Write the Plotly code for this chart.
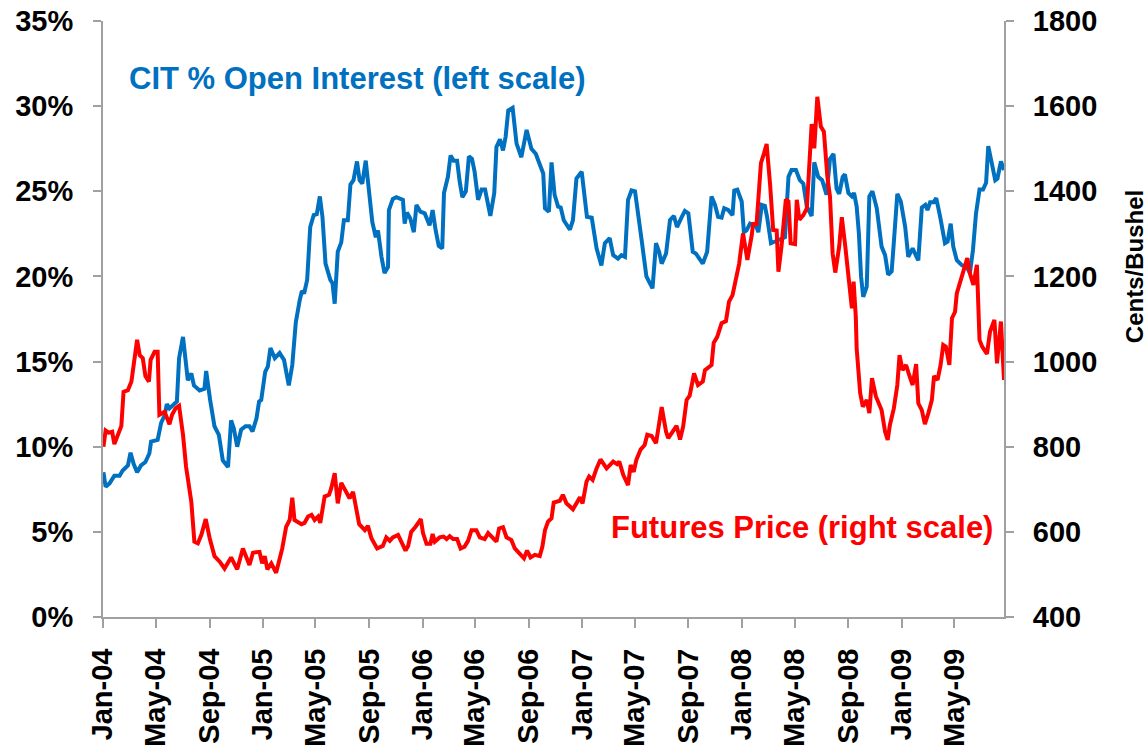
import plotly.graph_objects as go

# CIT % of open interest (left scale, percent)
cit_dates = [
    "2004-01-02", "2004-01-07", "2004-01-16", "2004-01-27", "2004-02-08", "2004-02-15", "2004-02-27",
    "2004-03-04", "2004-03-11", "2004-03-19", "2004-03-28", "2004-04-07", "2004-04-16", "2004-04-20",
    "2004-05-05", "2004-05-13", "2004-05-21", "2004-05-26", "2004-06-01", "2004-06-13", "2004-06-18",
    "2004-06-23", "2004-07-02", "2004-07-13", "2004-07-21", "2004-07-27", "2004-08-09", "2004-08-20",
    "2004-08-24", "2004-09-02", "2004-09-12", "2004-09-22", "2004-10-01", "2004-10-13", "2004-10-20",
    "2004-10-26", "2004-11-03", "2004-11-12", "2004-11-22", "2004-12-01", "2004-12-08", "2004-12-17",
    "2004-12-23", "2004-12-28",
    "2005-01-06", "2005-01-12", "2005-01-18", "2005-01-28", "2005-02-08", "2005-02-18", "2005-03-01",
    "2005-03-09", "2005-03-17", "2005-03-26", "2005-03-31", "2005-04-05", "2005-04-12", "2005-04-19",
    "2005-04-27", "2005-05-04", "2005-05-11", "2005-05-17", "2005-05-24", "2005-06-04", "2005-06-09",
    "2005-06-14", "2005-06-21", "2005-06-29", "2005-07-05", "2005-07-14", "2005-07-20", "2005-07-27",
    "2005-08-04", "2005-08-10", "2005-08-16", "2005-08-24", "2005-09-02", "2005-09-08", "2005-09-16",
    "2005-09-21", "2005-09-29", "2005-10-06", "2005-10-14", "2005-10-16", "2005-10-25", "2005-11-02",
    "2005-11-17", "2005-11-21", "2005-11-26", "2005-12-04", "2005-12-12", "2005-12-18", "2005-12-27",
    "2006-01-06", "2006-01-17", "2006-01-24", "2006-01-31", "2006-02-07", "2006-02-15", "2006-02-19",
    "2006-02-28", "2006-03-06", "2006-03-13", "2006-03-21", "2006-03-27", "2006-04-02", "2006-04-10",
    "2006-04-17", "2006-04-24", "2006-04-30", "2006-05-08", "2006-05-16", "2006-05-24", "2006-06-05",
    "2006-06-14", "2006-06-19", "2006-06-27", "2006-07-04", "2006-07-10", "2006-07-16", "2006-07-26",
    "2006-08-04", "2006-08-15", "2006-08-27", "2006-09-07", "2006-09-17", "2006-09-22", "2006-10-04",
    "2006-10-08", "2006-10-17", "2006-10-23", "2006-10-30", "2006-11-07", "2006-11-13", "2006-11-20",
    "2006-12-04", "2006-12-11", "2006-12-19", "2006-12-31",
    "2007-01-12", "2007-01-23", "2007-02-03", "2007-02-14", "2007-02-22", "2007-03-05", "2007-03-13",
    "2007-03-24", "2007-04-01", "2007-04-09", "2007-04-16", "2007-04-24", "2007-05-02", "2007-05-17",
    "2007-05-28", "2007-06-11", "2007-06-19", "2007-06-26", "2007-07-02", "2007-07-12", "2007-07-21",
    "2007-07-30", "2007-08-06", "2007-08-17", "2007-08-24", "2007-09-01", "2007-09-11", "2007-09-18",
    "2007-10-04", "2007-10-14", "2007-10-24", "2007-11-01", "2007-11-08", "2007-11-16", "2007-11-22",
    "2007-12-01", "2007-12-11", "2007-12-15", "2007-12-22",
    "2008-01-01", "2008-01-06", "2008-01-12", "2008-01-20", "2008-01-27", "2008-02-04", "2008-02-08",
    "2008-02-16", "2008-02-23", "2008-02-28", "2008-03-08", "2008-03-17", "2008-03-27", "2008-04-09",
    "2008-04-17", "2008-04-24", "2008-05-04", "2008-05-13", "2008-05-21", "2008-05-29", "2008-06-09",
    "2008-06-15", "2008-06-24", "2008-07-03", "2008-07-13", "2008-07-21", "2008-07-29", "2008-08-05",
    "2008-08-11", "2008-08-19", "2008-08-24", "2008-09-01", "2008-09-09", "2008-09-14", "2008-09-20",
    "2008-09-25", "2008-09-30", "2008-10-05", "2008-10-13", "2008-10-19", "2008-10-26", "2008-11-05",
    "2008-11-16", "2008-11-24", "2008-12-01", "2008-12-09", "2008-12-13", "2008-12-22", "2008-12-30",
    "2009-01-09", "2009-01-16", "2009-01-26", "2009-02-04", "2009-02-08", "2009-02-16", "2009-02-24",
    "2009-03-01", "2009-03-07", "2009-03-15", "2009-03-21", "2009-03-30", "2009-04-10", "2009-04-16",
    "2009-04-23", "2009-04-29", "2009-05-07", "2009-05-19", "2009-05-30", "2009-06-06", "2009-06-13",
    "2009-06-20", "2009-06-28", "2009-07-06", "2009-07-13", "2009-07-18", "2009-07-26", "2009-08-03",
    "2009-08-08", "2009-08-16", "2009-08-23",
]
cit_pct = [
    8.5, 7.65, 7.85, 8.3, 8.3, 8.6, 8.9,
    9.65, 9.0, 8.5, 8.9, 9.1, 9.6, 10.3,
    10.4, 11.4, 11.85, 12.5, 12.25, 12.55, 12.65,
    15.2, 16.45, 13.9, 14.3, 13.6, 13.3, 13.4,
    14.45, 12.75, 11.2, 10.7, 9.2, 8.8, 11.55,
    11.1, 10.0, 11.0, 11.2, 11.2, 10.9, 11.65,
    12.65, 12.75,
    14.4, 14.7, 15.8, 15.2, 15.5, 15.1, 13.6,
    14.8, 17.3, 18.6, 19.15, 19.0, 19.8, 22.9,
    23.6, 23.65, 24.7, 23.5, 20.75, 19.8, 19.6,
    18.4, 21.45, 22.0, 23.3, 23.3, 25.4, 25.65,
    26.75, 25.65, 25.45, 26.8, 24.7, 23.2, 22.3,
    22.7, 21.15, 20.2, 20.55, 23.9, 24.55, 24.65,
    24.5, 23.1, 23.75, 23.4, 22.6, 24.2, 23.8,
    23.7, 23.0, 23.9, 22.7, 21.8, 21.65, 24.9,
    25.85, 27.1, 26.8, 26.8, 25.55, 24.65, 25.0,
    27.05, 26.9, 26.15, 24.5, 25.1, 25.1, 23.55,
    24.9, 27.6, 28.05, 27.4, 28.2, 29.75, 29.9,
    27.8, 27.0, 28.6, 27.5, 27.2, 26.85, 26.05,
    24.0, 23.8, 26.7, 24.8, 24.1, 24.05, 23.3,
    22.75, 23.3, 25.75, 26.15,
    23.5, 23.45, 21.65, 20.65, 21.95, 22.25, 21.25,
    21.05, 21.25, 21.15, 24.5, 25.05, 25.0, 22.15,
    20.0, 19.3, 21.95, 21.45, 20.75, 21.35, 23.3,
    23.55, 22.9, 23.5, 23.85, 23.7, 21.45, 21.35,
    20.75, 21.45, 24.7, 24.2, 23.5, 23.45, 24.0,
    23.9, 23.6, 25.05, 25.1,
    24.4, 22.6, 22.7, 23.1, 23.0, 22.9, 22.6,
    24.2, 24.15, 23.5, 21.95, 22.05, 22.15, 22.3,
    25.85, 26.25, 26.25, 25.65, 25.45, 24.1, 23.55,
    26.7, 25.85, 25.65, 24.8, 26.9, 27.2, 25.15,
    24.85, 25.85, 26.0, 24.9, 24.7, 24.9, 24.1,
    22.55, 20.0, 18.8, 19.4, 24.7, 25.0, 24.0,
    21.75, 21.25, 20.1, 20.3, 21.65, 24.85, 24.4,
    22.9, 21.15, 21.65, 21.15, 20.95, 24.05, 24.2,
    23.9, 24.35, 24.35, 24.6, 23.5, 21.95, 22.05,
    23.1, 21.75, 20.95, 20.65, 20.55, 20.2, 21.55,
    23.7, 25.1, 25.1, 25.5, 27.65, 26.65, 25.65,
    25.75, 26.75, 26.25,
]

# Futures price (right scale, cents/bushel)
price_dates = [
    "2004-01-02", "2004-01-07", "2004-01-14", "2004-01-22", "2004-01-27", "2004-02-04", "2004-02-12",
    "2004-02-17", "2004-02-27", "2004-03-06", "2004-03-13", "2004-03-19", "2004-03-25", "2004-04-01",
    "2004-04-07", "2004-04-15", "2004-04-19", "2004-04-28", "2004-05-05", "2004-05-09", "2004-05-21",
    "2004-06-01", "2004-06-07", "2004-06-15", "2004-06-23", "2004-07-02", "2004-07-09", "2004-07-21",
    "2004-07-28", "2004-08-05", "2004-08-13", "2004-08-23", "2004-09-01", "2004-09-12", "2004-09-24",
    "2004-10-05", "2004-10-20", "2004-11-03", "2004-11-16", "2004-12-01", "2004-12-09", "2004-12-24",
    "2004-12-30",
    "2005-01-05", "2005-01-11", "2005-01-20", "2005-01-31", "2005-02-14", "2005-02-23", "2005-03-03",
    "2005-03-09", "2005-03-14", "2005-03-30", "2005-04-06", "2005-04-14", "2005-04-22", "2005-04-29",
    "2005-05-07", "2005-05-12", "2005-05-22", "2005-06-01", "2005-06-06", "2005-06-14", "2005-06-21",
    "2005-06-29", "2005-07-09", "2005-07-18", "2005-07-26", "2005-08-09", "2005-08-22", "2005-08-29",
    "2005-09-06", "2005-09-19", "2005-10-02", "2005-10-10", "2005-10-18", "2005-10-25", "2005-11-06",
    "2005-11-14", "2005-11-23", "2005-11-29", "2005-12-06", "2005-12-16", "2005-12-28",
    "2006-01-02", "2006-01-10", "2006-01-19", "2006-01-24", "2006-01-29", "2006-02-09", "2006-02-18",
    "2006-02-25", "2006-03-04", "2006-03-12", "2006-03-21", "2006-03-29", "2006-04-07", "2006-04-15",
    "2006-04-23", "2006-05-04", "2006-05-12", "2006-05-23", "2006-05-31", "2006-06-11", "2006-06-19",
    "2006-06-25", "2006-07-04", "2006-07-12", "2006-07-23", "2006-07-31", "2006-08-11", "2006-08-21",
    "2006-08-28", "2006-09-05", "2006-09-15", "2006-09-26", "2006-10-02", "2006-10-08", "2006-10-15",
    "2006-10-23", "2006-10-28", "2006-11-11", "2006-11-18", "2006-11-26", "2006-12-11", "2006-12-27",
    "2007-01-02", "2007-01-11", "2007-01-17", "2007-01-25", "2007-02-03", "2007-02-12", "2007-02-26",
    "2007-03-13", "2007-03-22", "2007-03-27", "2007-04-05", "2007-04-16", "2007-04-22", "2007-04-29",
    "2007-05-05", "2007-05-15", "2007-05-24", "2007-05-30", "2007-06-09", "2007-06-19", "2007-07-02",
    "2007-07-12", "2007-07-17", "2007-07-27", "2007-08-05", "2007-08-13", "2007-08-20", "2007-08-28",
    "2007-09-04", "2007-09-14", "2007-09-23", "2007-10-04", "2007-10-09", "2007-10-24", "2007-10-29",
    "2007-11-06", "2007-11-16", "2007-11-26", "2007-12-03", "2007-12-11", "2007-12-20", "2007-12-26",
    "2008-01-04", "2008-01-14", "2008-01-24", "2008-01-27", "2008-02-04", "2008-02-14", "2008-02-21",
    "2008-02-27", "2008-03-06", "2008-03-13", "2008-03-21", "2008-03-25", "2008-04-01", "2008-04-11",
    "2008-04-17", "2008-04-22", "2008-05-02", "2008-05-06", "2008-05-12", "2008-05-21", "2008-05-29",
    "2008-06-04", "2008-06-09", "2008-06-15", "2008-06-22", "2008-06-30", "2008-07-07", "2008-07-15",
    "2008-07-21", "2008-07-27", "2008-08-02", "2008-08-11", "2008-08-17", "2008-08-25", "2008-09-03",
    "2008-09-09", "2008-09-13", "2008-09-18", "2008-09-20", "2008-09-28", "2008-10-04", "2008-10-13",
    "2008-10-19", "2008-10-25", "2008-11-03", "2008-11-11", "2008-11-16", "2008-11-24", "2008-11-30",
    "2008-12-05", "2008-12-14", "2008-12-22", "2008-12-27",
    "2009-01-03", "2009-01-11", "2009-01-18", "2009-01-26", "2009-02-03", "2009-02-08", "2009-02-16",
    "2009-02-23", "2009-03-03", "2009-03-11", "2009-03-16", "2009-03-24", "2009-03-31", "2009-04-06",
    "2009-04-12", "2009-04-20", "2009-04-26", "2009-05-03", "2009-05-07", "2009-05-18", "2009-05-31",
    "2009-06-06", "2009-06-14", "2009-06-22", "2009-06-28", "2009-07-04", "2009-07-15", "2009-07-22",
    "2009-08-01", "2009-08-07", "2009-08-16", "2009-08-23",
]
price_cents = [
    800, 838, 833, 835, 806, 827, 849,
    929, 933, 953, 1004, 1051, 1015, 1008,
    966, 953, 1004, 1023, 1023, 875, 882,
    853, 875, 890, 896, 828, 753, 671,
    577, 573, 593, 630, 585, 543, 530,
    514, 540, 512, 561, 522, 551, 553,
    526,
    543, 512, 526, 504, 561, 612, 628,
    680, 628, 618, 621, 636, 640, 628,
    636, 621, 683, 687, 702, 738, 667,
    715, 698, 679, 694, 618, 604, 614,
    585, 561, 567, 587, 579, 587, 593,
    577, 556, 567, 600, 612, 630,
    597, 572, 572, 595, 577, 587, 589,
    583, 590, 583, 583, 561, 565, 579,
    604, 604, 587, 583, 597, 587, 577,
    608, 611, 587, 581, 561, 550, 538,
    556, 540, 546, 543, 565, 604, 624,
    632, 669, 673, 687, 667, 653, 681,
    667, 718, 730, 722, 749, 770, 749,
    765, 759, 765, 734, 710, 757, 741,
    769, 794, 804, 828, 825, 808, 893,
    835, 820, 835, 849, 817, 847, 910,
    920, 972, 945, 953, 980, 992, 1044,
    1058, 1090, 1095, 1141, 1156, 1199, 1229,
    1301, 1239, 1297, 1323, 1323, 1466, 1489,
    1511, 1415, 1309, 1308, 1211, 1270, 1381,
    1376, 1278, 1276, 1380, 1333, 1344, 1360,
    1485, 1558, 1501, 1622, 1552, 1540, 1434,
    1387, 1254, 1209, 1270, 1339, 1270, 1168,
    1125, 1188, 1105, 1031, 926, 894, 910,
    879, 961, 918, 898, 886, 835, 816,
    851, 890, 945, 1015,
    980, 992, 969, 945, 994, 902, 886,
    853, 879, 910, 966, 957, 992, 1039,
    1035, 992, 1102, 1117, 1160, 1196, 1243,
    1207, 1180, 1227, 1051, 1035, 1018, 1070,
    1098, 996, 1094, 957,
]

left_ticks = [0, 5, 10, 15, 20, 25, 30, 35]
left_labels = ["0%", "5%", "10%", "15%", "20%", "25%", "30%", "35%"]
right_ticks = [400, 600, 800, 1000, 1200, 1400, 1600, 1800]
x_range = ["2004-01-01", "2009-08-23"]

FONT = "Liberation Sans, Arial, sans-serif"
BLUE = "#0070C0"
RED = "#FF0000"
AXIS = "#A0A0A0"

fig = go.Figure()
fig.add_trace(go.Scatter(x=cit_dates, y=cit_pct, mode="lines", yaxis="y",
                         line=dict(color=BLUE, width=4), name="CIT % Open Interest"))
fig.add_trace(go.Scatter(x=price_dates, y=price_cents, mode="lines", yaxis="y2",
                         line=dict(color=RED, width=4), name="Futures Price"))

tickfont = dict(family=FONT, size=29, color="black", weight="bold")

fig.update_layout(
    width=1148, height=754, autosize=False,
    margin=dict(l=103, r=144, t=21, b=137),
    paper_bgcolor="white", plot_bgcolor="white",
    showlegend=False,
    xaxis=dict(
        type="date", range=x_range, automargin=False,
        tick0="2004-01-01", dtick="M4", tickformat="%b-%y",
        tickangle=-90,
        tickfont=dict(family=FONT, size=29, color="black", weight="bold"),
        ticks="outside", ticklen=9, tickcolor=AXIS, tickwidth=1.5,
        ticklabelstandoff=9,
        showline=True, linecolor=AXIS, linewidth=2,
        showgrid=False, zeroline=False,
    ),
    yaxis=dict(
        range=[0, 35], tickvals=left_ticks, ticktext=left_labels, automargin=False,
        tickfont=tickfont,
        ticks="outside", ticklen=8, tickcolor=AXIS, tickwidth=1.5,
        ticklabelstandoff=14,
        showline=True, linecolor=AXIS, linewidth=2,
        showgrid=False, zeroline=False,
    ),
    yaxis2=dict(
        range=[400, 1800], tickvals=right_ticks, automargin=False,
        overlaying="y", side="right",
        tickfont=tickfont,
        ticks="outside", ticklen=8, tickcolor=AXIS, tickwidth=1.5,
        ticklabelstandoff=13,
        showline=True, linecolor=AXIS, linewidth=2,
        showgrid=False, zeroline=False,
    ),
    annotations=[
        dict(text="CIT % Open Interest (left scale)", xref="paper", yref="paper",
             x=0.0266, y=0.904, xanchor="left", yanchor="middle", showarrow=False,
             font=dict(family=FONT, size=31, color=BLUE, weight="bold")),
        dict(text="Futures Price (right scale)", xref="paper", yref="paper",
             x=0.990, y=0.151, xanchor="right", yanchor="middle", showarrow=False,
             font=dict(family=FONT, size=31, color=RED, weight="bold")),
        dict(text="Cents/Bushel", xref="paper", yref="paper",
             x=1.1443, y=0.587, xanchor="center", yanchor="middle", showarrow=False,
             textangle=-90,
             font=dict(family=FONT, size=24, color="black", weight="bold")),
    ],
)

fig.write_html(
    "out.html",
    config={"displayModeBar": False},
    post_script="document.body.style.margin='0';document.body.style.overflow='hidden';",
)
